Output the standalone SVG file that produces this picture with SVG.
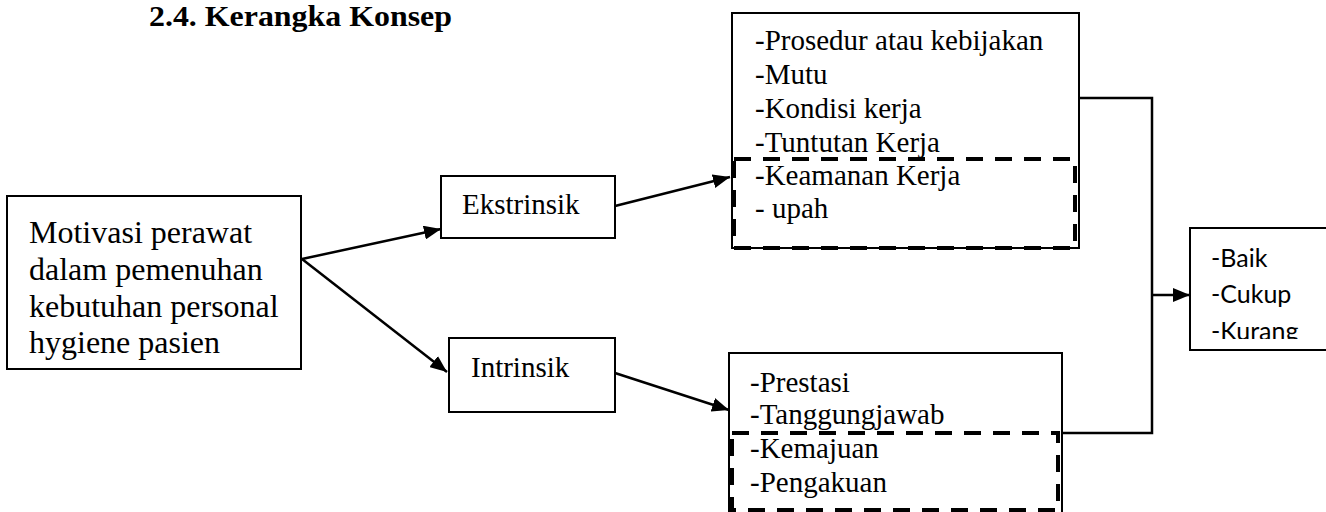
<svg xmlns="http://www.w3.org/2000/svg" width="1326" height="512" viewBox="0 0 1326 512">
<style>
.box{fill:#fff;stroke:#000;stroke-width:2}
.dash{fill:none;stroke:#000;stroke-width:4;stroke-dasharray:17 12}
.t{font-family:"Liberation Serif","Times New Roman",serif;fill:#000}
.s{font-family:Lato,"Noto Sans",sans-serif;font-size:25px;fill:#000}
.c{fill:none;stroke:#000;stroke-width:2.5}
</style>
<defs>
<marker id="arr" markerUnits="userSpaceOnUse" markerWidth="18" markerHeight="14" refX="17" refY="7" orient="auto">
<path d="M0,0 L17,7 L0,14 z" fill="#000"/>
</marker>
<clipPath id="clipR"><rect x="1190" y="228" width="140" height="111"/></clipPath>
</defs>
<rect width="1326" height="512" fill="#fff"/>
<text id="title" class="t" x="149" y="26" font-size="30" font-weight="bold" textLength="303" lengthAdjust="spacingAndGlyphs">2.4. Kerangka Konsep</text>

<g id="connectors">
<line class="c" x1="302" y1="259" x2="441" y2="229" marker-end="url(#arr)"/>
<line class="c" x1="302" y1="259" x2="447" y2="372" marker-end="url(#arr)"/>
<line class="c" x1="615" y1="206" x2="730" y2="177" marker-end="url(#arr)"/>
<line class="c" x1="615" y1="373" x2="729" y2="410" marker-end="url(#arr)"/>
<polyline class="c" points="1079,98 1152,98 1152,433 1062,433"/>
<line class="c" x1="1152" y1="295" x2="1190" y2="295" marker-end="url(#arr)"/>
</g>

<g id="motivasi">
<rect class="box" x="7" y="196" width="294" height="173"/>
<text class="t" font-size="32"><tspan x="29" y="243">Motivasi perawat</tspan><tspan x="29" y="280">dalam pemenuhan</tspan><tspan x="29" y="317">kebutuhan personal</tspan><tspan x="29" y="353">hygiene pasien</tspan></text>
</g>

<g id="ekstrinsik">
<rect class="box" x="441" y="176" width="174" height="62"/>
<text class="t" x="462" y="214" font-size="29">Ekstrinsik</text>
</g>

<g id="intrinsik">
<rect class="box" x="449" y="338" width="166" height="74"/>
<text class="t" x="471" y="377" font-size="29">Intrinsik</text>
</g>

<g id="ekstrinsik-factors">
<rect class="box" x="732" y="13" width="347" height="235"/>
<rect class="dash" x="734" y="159" width="341" height="89"/>
<text class="t" font-size="29"><tspan x="755" y="50">-Prosedur atau kebijakan</tspan><tspan x="755" y="84">-Mutu</tspan><tspan x="755" y="118">-Kondisi kerja</tspan><tspan x="755" y="152">-Tuntutan Kerja</tspan><tspan x="755" y="185">-Keamanan Kerja</tspan><tspan x="755" y="218">- upah</tspan></text>
</g>

<g id="intrinsik-factors">
<rect class="box" x="729" y="353" width="333" height="175"/>
<rect class="dash" x="732" y="433" width="326" height="77"/>
<text class="t" font-size="29"><tspan x="750" y="392">-Prestasi</tspan><tspan x="750" y="424">-Tanggungjawab</tspan><tspan x="750" y="458">-Kemajuan</tspan><tspan x="750" y="492">-Pengakuan</tspan></text>
</g>

<g id="hasil">
<rect class="box" x="1190" y="228" width="150" height="122"/>
<text class="s" clip-path="url(#clipR)"><tspan x="1211" y="267">-Baik</tspan><tspan x="1211" y="303">-Cukup</tspan><tspan x="1211" y="340">-Kurang</tspan></text>
</g>
</svg>
